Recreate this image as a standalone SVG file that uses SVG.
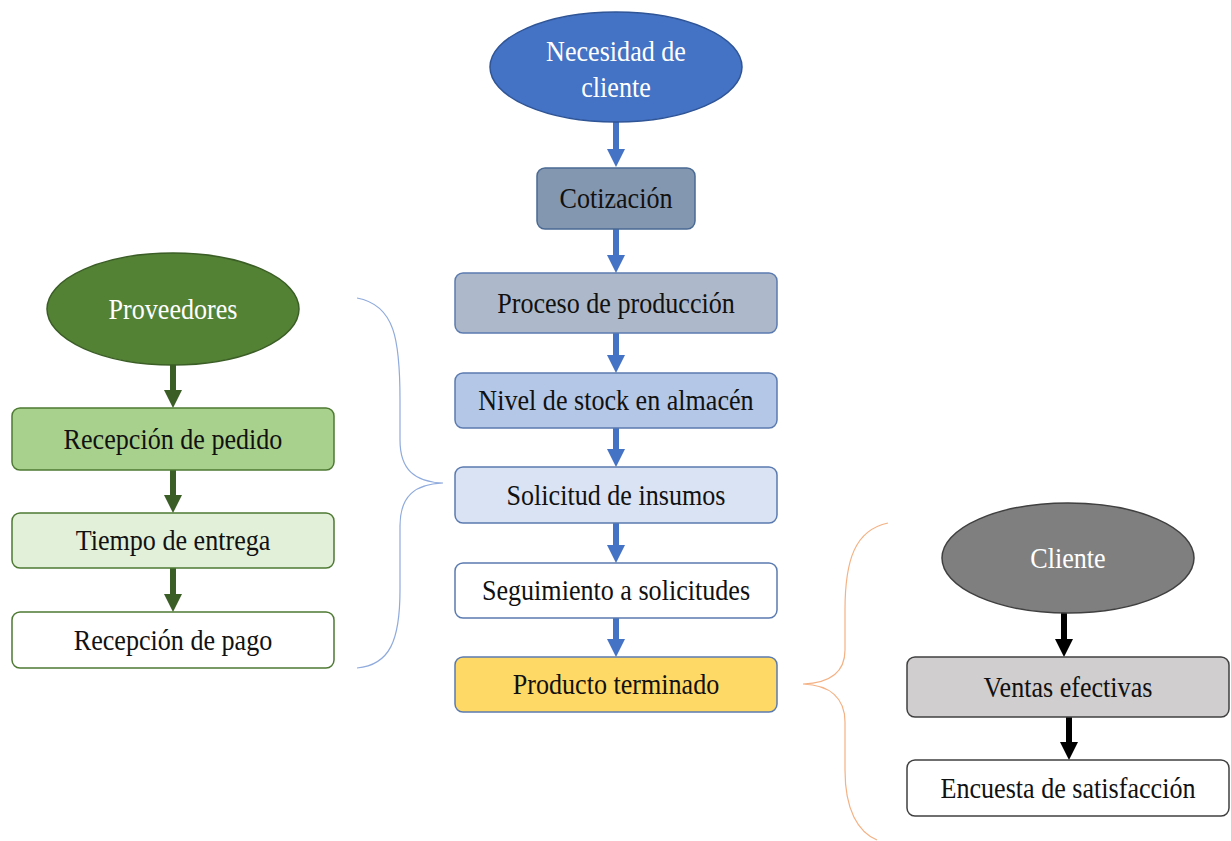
<svg xmlns="http://www.w3.org/2000/svg" width="1231" height="841" viewBox="0 0 1231 841">
  <style>
    .lbl { font-family: "Liberation Serif", "Times New Roman", serif; font-size: 29px; fill: #111111; text-anchor: middle; }
    .lbl-w { font-family: "Liberation Serif", "Times New Roman", serif; font-size: 29px; fill: #ffffff; text-anchor: middle; }
    .box { stroke-width: 1.5; }
    .blue-arrow { stroke: #4472c4; stroke-width: 6; fill: none; }
    .green-arrow { stroke: #3b5e26; stroke-width: 6; fill: none; }
    .black-arrow { stroke: #000000; stroke-width: 6; fill: none; }
    .brace { fill: none; stroke-width: 1.2; }
  </style>
  <defs>
    <marker id="headBlue" markerUnits="userSpaceOnUse" markerWidth="20" markerHeight="18" refX="0" refY="9" orient="auto">
      <path d="M0,0 L18,9 L0,18 Z" fill="#4472c4"/>
    </marker>
    <marker id="headGreen" markerUnits="userSpaceOnUse" markerWidth="20" markerHeight="18" refX="0" refY="9" orient="auto">
      <path d="M0,0 L18,9 L0,18 Z" fill="#3b5e26"/>
    </marker>
    <marker id="headBlack" markerUnits="userSpaceOnUse" markerWidth="20" markerHeight="18" refX="0" refY="9" orient="auto">
      <path d="M0,0 L18,9 L0,18 Z" fill="#000000"/>
    </marker>
  </defs>

  <rect width="1231" height="841" fill="#ffffff"/>

  <!-- connectors -->
  <g id="connectors">
    <!-- central column -->
    <line class="blue-arrow" x1="616" y1="122" x2="616" y2="149" marker-end="url(#headBlue)"/>
    <line class="blue-arrow" x1="616" y1="229" x2="616" y2="255" marker-end="url(#headBlue)"/>
    <line class="blue-arrow" x1="616" y1="333" x2="616" y2="355" marker-end="url(#headBlue)"/>
    <line class="blue-arrow" x1="616" y1="428" x2="616" y2="449" marker-end="url(#headBlue)"/>
    <line class="blue-arrow" x1="616" y1="523" x2="616" y2="545" marker-end="url(#headBlue)"/>
    <line class="blue-arrow" x1="616" y1="618" x2="616" y2="639" marker-end="url(#headBlue)"/>
    <!-- left column -->
    <line class="green-arrow" x1="173" y1="365" x2="173" y2="390" marker-end="url(#headGreen)"/>
    <line class="green-arrow" x1="173" y1="470" x2="173" y2="495" marker-end="url(#headGreen)"/>
    <line class="green-arrow" x1="173" y1="568" x2="173" y2="594" marker-end="url(#headGreen)"/>
    <!-- right column -->
    <line class="black-arrow" x1="1064" y1="612" x2="1064" y2="639" marker-end="url(#headBlack)"/>
    <line class="black-arrow" x1="1069" y1="717" x2="1069" y2="742" marker-end="url(#headBlack)"/>
    <!-- braces -->
    <path class="brace" stroke="#8faadc" d="M357,298 C395,305 400,340 400,400 L400,440 C400,470 415,482 443,483 C415,484 400,496 400,526 L400,590 C400,640 390,665 357,668"/>
    <path class="brace" stroke="#f4b183" d="M888,523 C855,530 845,560 845,610 L845,650 C845,672 830,683 803,684 C830,685 845,698 845,722 L845,770 C845,810 858,832 877,840"/>
  </g>

  <!-- central column -->
  <g id="necesidad-cliente">
    <ellipse cx="616" cy="67" rx="126" ry="55" fill="#4472c4" stroke="#2f5597" stroke-width="1.5"/>
    <text class="lbl-w" transform="matrix(0.9 0 0 1 616 61)">Necesidad de</text>
    <text class="lbl-w" transform="matrix(0.9 0 0 1 616 97)">cliente</text>
  </g>
  <g id="cotizacion">
    <rect class="box" x="537" y="168" width="158" height="61" rx="8" fill="#8497b0" stroke="#4a6a93"/>
    <text class="lbl" transform="matrix(0.9 0 0 1 616 208)">Cotización</text>
  </g>
  <g id="proceso-produccion">
    <rect class="box" x="455" y="273" width="322" height="60" rx="8" fill="#adb9ca" stroke="#5b7bb0"/>
    <text class="lbl" transform="matrix(0.9 0 0 1 616 313)">Proceso de producción</text>
  </g>
  <g id="nivel-stock">
    <rect class="box" x="455" y="373" width="322" height="55" rx="8" fill="#b4c7e7" stroke="#5b7bb0"/>
    <text class="lbl" transform="matrix(0.9 0 0 1 616 410)">Nivel de stock en almacén</text>
  </g>
  <g id="solicitud-insumos">
    <rect class="box" x="455" y="467" width="322" height="56" rx="8" fill="#dae3f3" stroke="#5b7bb0"/>
    <text class="lbl" transform="matrix(0.9 0 0 1 616 505)">Solicitud de insumos</text>
  </g>
  <g id="seguimiento">
    <rect class="box" x="455" y="563" width="322" height="55" rx="8" fill="#ffffff" stroke="#5b7bb0"/>
    <text class="lbl" transform="matrix(0.9 0 0 1 616 600)">Seguimiento a solicitudes</text>
  </g>
  <g id="producto-terminado">
    <rect class="box" x="455" y="657" width="322" height="55" rx="8" fill="#ffd966" stroke="#5b7bb0"/>
    <text class="lbl" transform="matrix(0.9 0 0 1 616 694)">Producto terminado</text>
  </g>

  <!-- left column -->
  <g id="proveedores">
    <ellipse cx="173" cy="309" rx="126" ry="56" fill="#548235" stroke="#3b5e26" stroke-width="1.5"/>
    <text class="lbl-w" transform="matrix(0.9 0 0 1 173 319)">Proveedores</text>
  </g>
  <g id="recepcion-pedido">
    <rect class="box" x="12" y="408" width="322" height="62" rx="8" fill="#a9d18e" stroke="#4e7a33"/>
    <text class="lbl" transform="matrix(0.9 0 0 1 173 449)">Recepción de pedido</text>
  </g>
  <g id="tiempo-entrega">
    <rect class="box" x="12" y="513" width="322" height="55" rx="8" fill="#e2f0d9" stroke="#4e7a33"/>
    <text class="lbl" transform="matrix(0.9 0 0 1 173 550)">Tiempo de entrega</text>
  </g>
  <g id="recepcion-pago">
    <rect class="box" x="12" y="612" width="322" height="56" rx="8" fill="#ffffff" stroke="#4e7a33"/>
    <text class="lbl" transform="matrix(0.9 0 0 1 173 650)">Recepción de pago</text>
  </g>

  <!-- right column -->
  <g id="cliente">
    <ellipse cx="1068" cy="558" rx="126" ry="55" fill="#7f7f7f" stroke="#404040" stroke-width="1.5"/>
    <text class="lbl-w" transform="matrix(0.9 0 0 1 1068 568)">Cliente</text>
  </g>
  <g id="ventas-efectivas">
    <rect class="box" x="907" y="657" width="322" height="60" rx="8" fill="#d0cece" stroke="#404040"/>
    <text class="lbl" transform="matrix(0.9 0 0 1 1068 697)">Ventas efectivas</text>
  </g>
  <g id="encuesta-satisfaccion">
    <rect class="box" x="907" y="760" width="322" height="56" rx="8" fill="#ffffff" stroke="#404040"/>
    <text class="lbl" transform="matrix(0.9 0 0 1 1068 798)">Encuesta de satisfacción</text>
  </g>
</svg>
